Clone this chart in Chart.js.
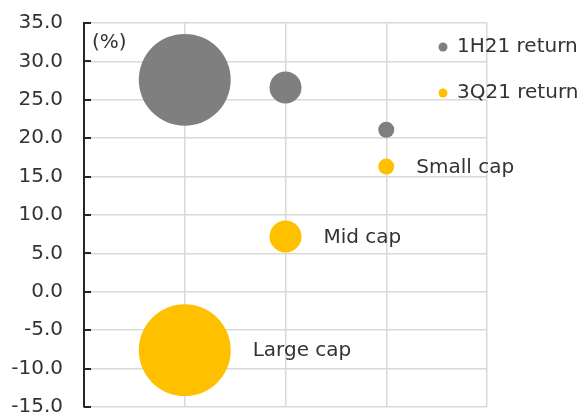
<!DOCTYPE html>
<html>
<head>
<meta charset="utf-8">
<script src="https://cdn.jsdelivr.net/npm/chart.js@4/dist/chart.umd.min.js"></script>
<style>
  html, body { margin: 0; padding: 0; background: #fff; }
  #wrap { width: 585px; height: 417px; }
</style>
</head>
<body>
<div id="wrap"><canvas id="myChart" width="585" height="417"></canvas></div>
<script>
const categories = ['Large cap', 'Mid cap', 'Small cap'];
const return1H21 = [27.6, 26.6, 21.1];
const return3Q21 = [-7.6, 7.2, 16.3];
// relative market cap, drives bubble area
const capSize = [33, 4, 1];
const seriesNames = ['1H21 return', '3Q21 return'];
const seriesColors = ['#7f7f7f', '#ffc000'];

const FONT = 'DejaVu Sans';
const TEXT = '#333333';

function bubbles(values) {
  return values.map((v, i) => ({ x: i + 1, y: v, r: 8 * Math.sqrt(capSize[i]) }));
}

const extras = {
  id: 'extras',
  afterDraw(chart) {
    const c = chart.ctx;
    const area = chart.chartArea;
    const y = chart.scales.y;
    c.save();

    // inward tick marks on the value axis
    c.strokeStyle = '#262626';
    c.lineWidth = 2;
    y.ticks.forEach(t => {
      const py = Math.round(y.getPixelForValue(t.value));
      c.beginPath();
      c.moveTo(area.left, py);
      c.lineTo(area.left + 7, py);
      c.stroke();
    });

    c.font = '20px "' + FONT + '"';
    c.fillStyle = TEXT;
    c.textBaseline = 'middle';
    c.textAlign = 'left';
    c.fillText('(%)', area.left + 8, 43);

    // legend
    seriesNames.forEach((name, i) => {
      const ly = 47 + i * 46;
      c.fillStyle = seriesColors[i];
      c.beginPath();
      c.arc(area.right - 44, ly, 4.5, 0, Math.PI * 2);
      c.fill();
      c.fillStyle = TEXT;
      c.fillText(name, area.right - 30, ly);
    });

    // category names beside the 3Q21 bubbles
    chart.getDatasetMeta(1).data.forEach((el, i) => {
      c.fillText(categories[i], el.x + el.options.radius + 22, el.y + 1);
    });
    c.restore();
  }
};

const ctx = document.getElementById('myChart');

chart = new Chart(ctx, {
  type: 'bubble',
  data: {
    datasets: [
      { label: seriesNames[0], data: bubbles(return1H21), backgroundColor: seriesColors[0], borderWidth: 0 },
      { label: seriesNames[1], data: bubbles(return3Q21), backgroundColor: seriesColors[1], borderWidth: 0 }
    ]
  },
  options: {
    responsive: false,
    animation: false,
    layout: { autoPadding: false, padding: { top: 23, right: 98, bottom: 10, left: 0 } },
    plugins: {
      legend: { display: false },
      tooltip: { enabled: false }
    },
    scales: {
      x: {
        min: 0,
        max: 4,
        ticks: { display: false, stepSize: 1 },
        grid: { color: '#d9d9d9', lineWidth: 1.5, drawTicks: false },
        border: { display: false }
      },
      y: {
        min: -15,
        max: 35,
        ticks: {
          stepSize: 5,
          padding: 21,
          color: TEXT,
          font: { family: FONT, size: 20 },
          callback: v => v.toFixed(1)
        },
        grid: { color: '#d9d9d9', lineWidth: 1.5, drawTicks: false },
        border: { color: '#262626', width: 2 },
        afterFit(scale) {
          scale.width = 84;
          scale.paddingTop = 0;
          scale.paddingBottom = 0;
        }
      }
    }
  },
  plugins: [extras]
});
</script>
</body>
</html>
